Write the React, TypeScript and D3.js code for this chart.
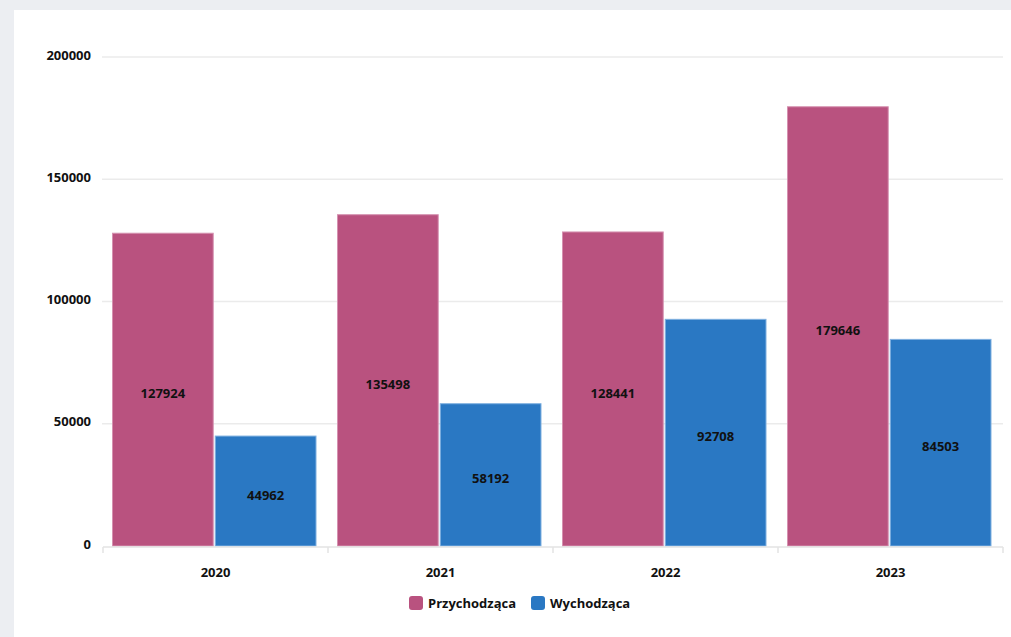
import React from 'react';
import * as d3 from 'd3';

const years = ['2020', '2021', '2022', '2023'];
const incoming = [127924, 135498, 128441, 179646];
const outgoing = [44962, 58192, 92708, 84503];
const seriesNames = ['Przychodząca', 'Wychodząca'];
const seriesColors = ['#b9527f', '#2a78c3'];
const seriesStrokes = ['#d591b0', '#7fb0e0'];
const yTicks = [0, 50000, 100000, 150000, 200000];

const W = 1011;
const H = 637;
const margin = { top: 57, right: 8, bottom: 91, left: 103 };
const font = '"Open Sans", "DejaVu Sans", sans-serif';

const App: React.FC = () => {
  const x = d3.scaleBand<string>()
    .domain(years)
    .range([margin.left, 1003])
    .paddingInner(0)
    .paddingOuter(0);

  const inner = d3.scaleBand<number>()
    .domain([0, 1])
    .range([9.5, 213])
    .paddingInner(0.02);

  const y = d3.scaleLinear()
    .domain([0, 200000])
    .range([H - margin.bottom, margin.top]);

  const series = [incoming, outgoing];
  const [y0] = y.range();

  return (
    <svg width={W} height={H} style={{ position: 'absolute', left: 0, top: 0, fontFamily: font }}>
      <rect x={0} y={0} width={W} height={H} fill="#eceef2" />
      <rect x={14} y={10} width={W - 14} height={H - 10} fill="#ffffff" />

      {/* grid */}
      {yTicks.filter(t => t > 0).map(t => (
        <line key={t} x1={margin.left - 1} x2={1003} y1={y(t)} y2={y(t)} stroke="#ebebeb" strokeWidth={1.5} />
      ))}

      {/* y labels */}
      {yTicks.map(t => (
        <text key={t} x={91} y={y(t) - 2} dy="0.35em" textAnchor="end" fontSize={13} fontWeight={700} fill="#111">
          {t}
        </text>
      ))}

      {/* bars */}
      {years.map((yr, i) => (
        <g key={yr} transform={`translate(${x(yr)},0)`}>
          {series.map((s, k) => {
            const v = s[i];
            const bx = inner(k)!;
            const bw = inner.bandwidth();
            return (
              <g key={k}>
                <rect x={bx} y={y(v)} width={bw} height={y0 - y(v)} fill={seriesColors[k]} stroke={seriesStrokes[k]} strokeWidth={1} />
                <text x={bx + bw / 2} y={(y(v) + y0) / 2 + 4} dy="0.35em" textAnchor="middle" fontSize={13} fontWeight={700} fill="#111">
                  {v}
                </text>
              </g>
            );
          })}
        </g>
      ))}

      {/* x axis */}
      <line x1={margin.left} x2={1003} y1={y0 + 1} y2={y0 + 1} stroke="#e3e3e3" strokeWidth={1.5} />
      {[...years.map(yr => x(yr)!), x.range()[1]].map((px, i) => (
        <line key={i} x1={px} x2={px} y1={y0 + 1} y2={y0 + 7} stroke="#e3e3e3" strokeWidth={1.5} />
      ))}
      {years.map(yr => (
        <text key={yr} x={x(yr)! + x.bandwidth() / 2} y={572} dy="0.35em" textAnchor="middle" fontSize={13} fontWeight={700} fill="#111">
          {yr}
        </text>
      ))}

      {/* legend */}
      {seriesNames.map((n, k) => {
        const lx = k === 0 ? 409 : 531;
        return (
          <g key={n} transform={`translate(${lx},596)`}>
            <rect x={0} y={0} width={14} height={14} rx={3} fill={seriesColors[k]} />
            <text x={19} y={7} dy="0.35em" fontSize={13} fontWeight={700} fill="#111">{n}</text>
          </g>
        );
      })}
    </svg>
  );
};

export default App;
